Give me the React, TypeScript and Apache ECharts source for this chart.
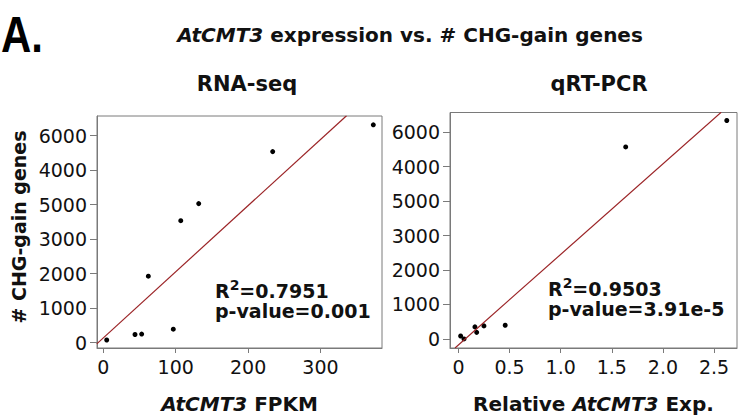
import React, { useEffect, useRef } from "react";
import * as echarts from "echarts";

// ---- data ----
const rnaFpkm = [4.7, 43.8, 53, 62.2, 96.7, 107, 131.8, 234, 373];
const rnaGenes = [77, 236, 247, 1925, 390, 3534, 4029, 5536, 6312];
const qpcrExp = [0.021, 0.054, 0.161, 0.178, 0.249, 0.457, 1.636, 2.625];
const qpcrGenes = [85, 0, 349, 190, 378, 397, 5574, 6340];

// fitted regression lines (end points)
const rnaFitX = [-9, 336];
const rnaFitY = [-37, 6577];
const qpcrFitX = [-0.034, 2.57];
const qpcrFitY = [-264, 6579];

// tick values / labels (the original figure shows 5000 and 4000 swapped)
const yTickValues = [0, 1000, 2000, 3000, 4000, 5000, 6000];
const yTickLabels = ["0", "1000", "2000", "3000", "5000", "4000", "6000"];
const rnaXTicks = [0, 100, 200, 300];
const rnaXLabels = ["0", "100", "200", "300"];
const qpcrXTicks = [0, 0.5, 1, 1.5, 2, 2.5];
const qpcrXLabels = ["0", "0.5", "1.0", "1.5", "2.0", "2.5"];

const rnaStats = ["0.7951", "0.001"];
const qpcrStats = ["0.9503", "3.91e-5"];

const FONT = '"DejaVu Sans", "Liberation Sans", sans-serif';
const AXIS_GRAY = "#7a7a7a";
const FIT_RED = "#9b2326";
const TXT = "#111111";

function zip(xs: number[], ys: number[]) {
  return xs.map((x, i) => [x, ys[i]]);
}

function xAxisFor(grid: number, min: number, max: number, ticks: number[], labels: string[], name: string) {
  return {
    type: "value",
    gridIndex: grid,
    min,
    max,
    name,
    nameLocation: "middle",
    nameGap: 46,
    nameTextStyle: {
      fontFamily: FONT,
      fontWeight: "bold",
      fontSize: 20,
      color: TXT,
      rich: {
        i: { fontFamily: FONT, fontWeight: "bold", fontStyle: "italic", fontSize: 20, color: TXT },
      },
    },
    axisLine: { show: true, onZero: false, lineStyle: { color: AXIS_GRAY, width: 1 } },
    axisTick: { show: true, length: 5, customValues: ticks, lineStyle: { color: AXIS_GRAY } },
    axisLabel: {
      customValues: ticks,
      margin: 9,
      fontFamily: FONT,
      fontSize: 19,
      color: TXT,
      formatter: (v: number) => {
        const k = ticks.findIndex((t) => Math.abs(t - v) < 1e-9);
        return k >= 0 ? labels[k] : "";
      },
    },
    splitLine: { show: false },
  };
}

function yAxisFor(grid: number, min: number, max: number) {
  return {
    type: "value",
    gridIndex: grid,
    min,
    max,
    axisLine: { show: true, onZero: false, lineStyle: { color: AXIS_GRAY, width: 1 } },
    axisTick: { show: true, length: 7, customValues: yTickValues, lineStyle: { color: AXIS_GRAY } },
    axisLabel: {
      customValues: yTickValues,
      margin: 10,
      fontFamily: FONT,
      fontSize: 19,
      color: TXT,
      formatter: (v: number) => {
        const k = yTickValues.indexOf(v);
        return k >= 0 ? yTickLabels[k] : "";
      },
    },
    splitLine: { show: false },
  };
}

function statText(x: number, y: number, text: string, rich?: any) {
  return {
    type: "text",
    x,
    y,
    style: {
      text,
      fontFamily: FONT,
      fontWeight: "bold",
      fontSize: 19,
      fill: TXT,
      align: "left",
      verticalAlign: "middle",
      textAlign: "left",
      textVerticalAlign: "middle",
      rich,
    },
  };
}

const supRich = {
  b: { fontFamily: FONT, fontWeight: "bold", fontSize: 19, color: TXT },
  s: { fontFamily: FONT, fontWeight: "bold", fontSize: 14, color: TXT, padding: [0, 0, 12, 0] },
};

export default function App() {
  const ref = useRef<HTMLDivElement>(null);

  useEffect(() => {
    if (!ref.current) return;
    const chart = echarts.init(ref.current, undefined, { renderer: "svg" });
    chart.setOption({
      animation: false,
      backgroundColor: "#ffffff",
      grid: [
        { left: 97, top: 116, width: 285, height: 236.5, show: true, borderColor: AXIS_GRAY, borderWidth: 1, containLabel: false },
        { left: 450, top: 112.5, width: 287, height: 241, show: true, borderColor: AXIS_GRAY, borderWidth: 1, containLabel: false },
      ],
      xAxis: [
        xAxisFor(0, -8.7, 385, rnaXTicks, rnaXLabels, "{i|AtCMT3} FPKM"),
        xAxisFor(1, -0.083, 2.725, qpcrXTicks, qpcrXLabels, "Relative {i|AtCMT3} Exp."),
      ],
      yAxis: [yAxisFor(0, -156, 6568), yAxisFor(1, -264, 6573)],
      series: [
        {
          type: "line",
          xAxisIndex: 0,
          yAxisIndex: 0,
          data: zip(rnaFitX, rnaFitY),
          symbol: "none",
          clip: true,
          lineStyle: { color: FIT_RED, width: 1.2 },
        },
        {
          type: "scatter",
          xAxisIndex: 0,
          yAxisIndex: 0,
          data: zip(rnaFpkm, rnaGenes),
          symbolSize: 5,
          itemStyle: { color: "#000", opacity: 1 },
        },
        {
          type: "line",
          xAxisIndex: 1,
          yAxisIndex: 1,
          data: zip(qpcrFitX, qpcrFitY),
          symbol: "none",
          clip: true,
          lineStyle: { color: FIT_RED, width: 1.2 },
        },
        {
          type: "scatter",
          xAxisIndex: 1,
          yAxisIndex: 1,
          data: zip(qpcrExp, qpcrGenes),
          symbolSize: 5,
          itemStyle: { color: "#000", opacity: 1 },
        },
      ],
      graphic: [
        {
          type: "text",
          x: 1,
          y: 35,
          scaleX: 0.84,
          style: {
            text: "A.",
            fontFamily: '"Liberation Sans Narrow", "Liberation Sans", sans-serif',
            fontWeight: "bold",
            fontSize: 50,
            fill: "#000",
            align: "left",
            verticalAlign: "middle",
            textAlign: "left",
            textVerticalAlign: "middle",
          },
        },
        {
          type: "text",
          x: 410,
          y: 35,
          style: {
            text: "{i|AtCMT3} expression vs. # CHG-gain genes",
            fontFamily: FONT,
            fontWeight: "bold",
            fontSize: 20,
            fill: TXT,
            align: "center",
            verticalAlign: "middle",
            textAlign: "center",
            textVerticalAlign: "middle",
            rich: {
              i: { fontFamily: FONT, fontWeight: "bold", fontStyle: "italic", fontSize: 20, color: TXT },
            },
          },
        },
        {
          type: "text",
          x: 247,
          y: 84,
          style: {
            text: "RNA-seq",
            fontFamily: FONT,
            fontWeight: "bold",
            fontSize: 21,
            fill: TXT,
            align: "center",
            verticalAlign: "middle",
            textAlign: "center",
            textVerticalAlign: "middle",
          },
        },
        {
          type: "text",
          x: 599,
          y: 84,
          style: {
            text: "qRT-PCR",
            fontFamily: FONT,
            fontWeight: "bold",
            fontSize: 21,
            fill: TXT,
            align: "center",
            verticalAlign: "middle",
            textAlign: "center",
            textVerticalAlign: "middle",
          },
        },
        {
          type: "text",
          x: 19,
          y: 227,
          rotation: Math.PI / 2,
          style: {
            text: "# CHG-gain genes",
            fontFamily: FONT,
            fontWeight: "bold",
            fontSize: 19,
            fill: TXT,
            align: "center",
            verticalAlign: "middle",
            textAlign: "center",
            textVerticalAlign: "middle",
          },
        },
        statText(215, 291, "{b|R}{s|2}{b|=" + rnaStats[0] + "}", supRich),
        statText(215, 311, "p-value=" + rnaStats[1]),
        statText(548, 289, "{b|R}{s|2}{b|=" + qpcrStats[0] + "}", supRich),
        statText(548, 309, "p-value=" + qpcrStats[1]),
      ],
    });
    return () => chart.dispose();
  }, []);

  return (
    <div
      ref={ref}
      style={{ position: "absolute", left: 0, top: 0, width: 738, height: 419, background: "#fff" }}
    />
  );
}
